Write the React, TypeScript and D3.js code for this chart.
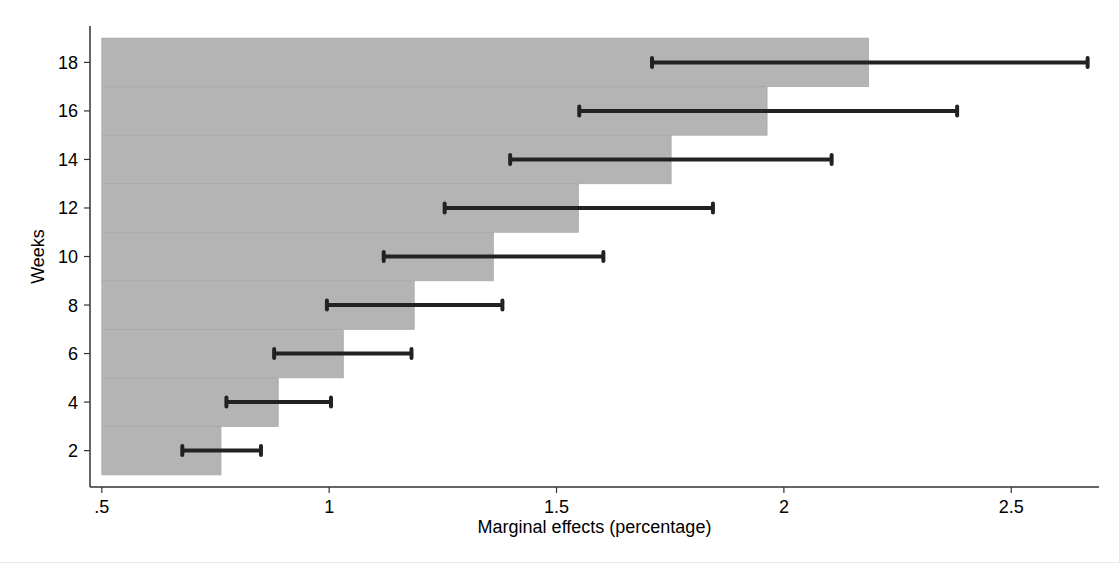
import React from "react";
import * as d3 from "d3";

const weeks = [2, 4, 6, 8, 10, 12, 14, 16, 18];
const effects = [0.762, 0.888, 1.031, 1.187, 1.361, 1.548, 1.752, 1.963, 2.186];
const ciLow = [0.677, 0.774, 0.879, 0.995, 1.12, 1.254, 1.398, 1.55, 1.71];
const ciHigh = [0.85, 1.004, 1.181, 1.381, 1.603, 1.844, 2.105, 2.381, 2.668];
const xTicks = [0.5, 1, 1.5, 2, 2.5];
const xTickLabels = [".5", "1", "1.5", "2", "2.5"];
const yTicks = [2, 4, 6, 8, 10, 12, 14, 16, 18];
const barBase = 0.5;

const W = 1120;
const H = 563;
const left = 90;
const right = 1099;
const top = 26;
const bottom = 487;

export default function App() {
  const x = d3.scaleLinear().domain([0.474, 2.693]).range([left, right]);
  const y = d3.scaleLinear().domain([0.5, 19.5]).range([bottom, top]);
  const font = "'Liberation Sans', Arial, Helvetica, sans-serif";
  const halfW = 1;
  const fs = 18;
  return (
    <svg
      width={W}
      height={H}
      style={{ position: "absolute", left: 0, top: 0, background: "#fff" }}
      fontFamily={font}
    >
      <rect x={0} y={0} width={W} height={H} fill="#fff" />
      <line x1={1119.5} x2={1119.5} y1={0} y2={H} stroke="#e3eaed" strokeWidth={1} />
      <line x1={0} x2={W} y1={562.5} y2={562.5} stroke="#e3eaed" strokeWidth={1} />
      {weeks.map((w, i) => (
        <rect
          key={"b" + w}
          x={x(barBase)}
          y={y(w + halfW)}
          width={x(effects[i]) - x(barBase)}
          height={y(w - halfW) - y(w + halfW)}
          fill="#b4b4b4"
          stroke="#a9a9a9"
          strokeWidth={0.8}
        />
      ))}
      {weeks.map((w, i) => (
        <g key={"ci" + w} stroke="#222" strokeLinecap="round">
          <line x1={x(ciLow[i])} x2={x(ciHigh[i])} y1={y(w)} y2={y(w)} strokeWidth={4} strokeLinecap="butt" />
          <line x1={x(ciLow[i])} x2={x(ciLow[i])} y1={y(w) - 4.5} y2={y(w) + 4.5} strokeWidth={4} />
          <line x1={x(ciHigh[i])} x2={x(ciHigh[i])} y1={y(w) - 4.5} y2={y(w) + 4.5} strokeWidth={4} />
        </g>
      ))}
      <line x1={left} x2={left} y1={top} y2={bottom} stroke="#333" strokeWidth={1.5} />
      <line x1={left} x2={right} y1={bottom} y2={bottom} stroke="#333" strokeWidth={1.5} />
      {yTicks.map((t) => (
        <g key={"yt" + t}>
          <line x1={left - 6} x2={left} y1={y(t)} y2={y(t)} stroke="#333" strokeWidth={1.2} />
          <text x={78} y={y(t)} dy="0.36em" textAnchor="end" fontSize={fs} fill="#000">
            {t}
          </text>
        </g>
      ))}
      {xTicks.map((t, i) => (
        <g key={"xt" + t}>
          <line x1={x(t)} x2={x(t)} y1={bottom} y2={bottom + 6} stroke="#333" strokeWidth={1.2} />
          <text x={x(t)} y={513} textAnchor="middle" fontSize={fs} fill="#000">
            {xTickLabels[i]}
          </text>
        </g>
      ))}
      <text x={(left + right) / 2} y={533} textAnchor="middle" fontSize={fs} fill="#000">
        Marginal effects (percentage)
      </text>
      <text
        transform={`translate(44, ${(top + bottom) / 2}) rotate(-90)`}
        textAnchor="middle"
        fontSize={fs}
        fill="#000"
      >
        Weeks
      </text>
    </svg>
  );
}
